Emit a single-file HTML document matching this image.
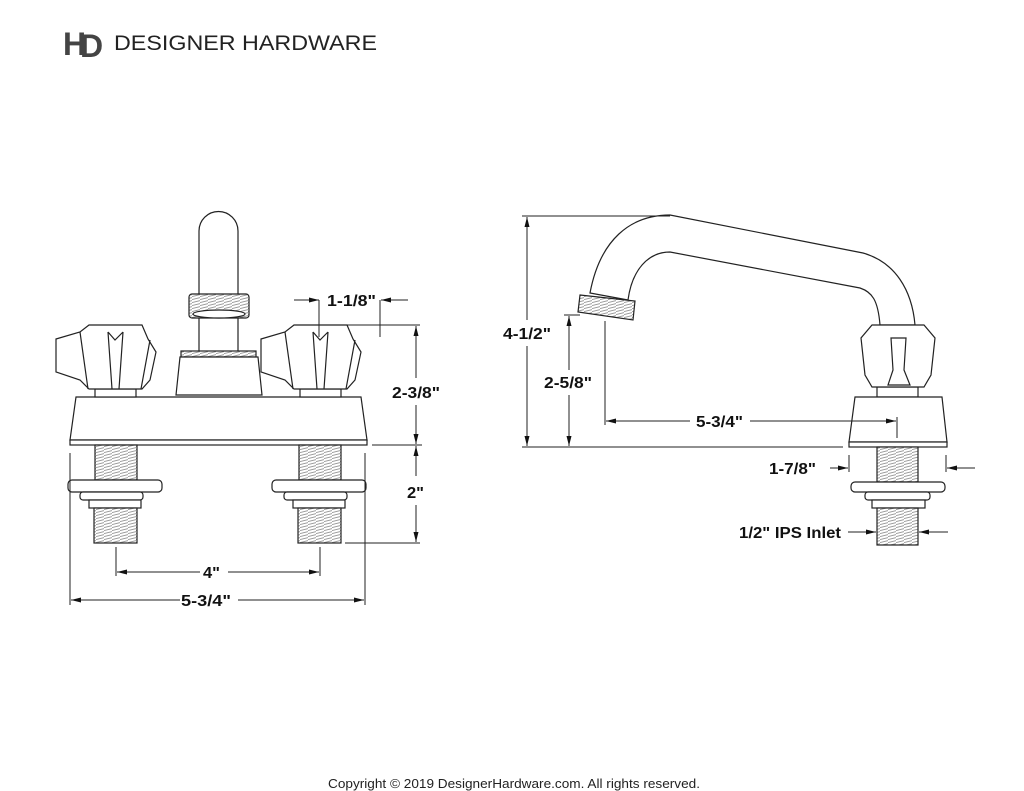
<!DOCTYPE html>
<html><head><meta charset="utf-8"><style>
html,body{margin:0;padding:0;background:#fff;}
svg{display:block;}
text{font-family:"Liberation Sans",sans-serif;}
.d{font-weight:bold;font-size:16px;fill:#111;}
</style></head><body>
<svg width="1024" height="791" viewBox="0 0 1024 791" xmlns="http://www.w3.org/2000/svg">
<defs>
<marker id="a" viewBox="0 0 10 6" refX="10" refY="3" markerWidth="10" markerHeight="6" markerUnits="userSpaceOnUse" orient="auto"><path d="M0,0.5 L10,3 L0,5.5z" fill="#111"/></marker>
<pattern id="th" width="8" height="3" patternUnits="userSpaceOnUse"><rect width="8" height="3" fill="#fff"/><line x1="0" y1="2.6" x2="8" y2="0.6" stroke="#999" stroke-width="0.9"/></pattern>
</defs>
<!-- logo -->
<text x="63" y="55" font-family="Liberation Serif,serif" font-size="32" font-weight="bold" fill="#444">H</text>
<text x="80" y="57" font-family="Liberation Serif,serif" font-size="32" font-weight="bold" fill="#444">D</text>
<text x="114" y="50" font-size="21" fill="#222" textLength="263" lengthAdjust="spacingAndGlyphs">DESIGNER HARDWARE</text>

<g fill="#fff" stroke="#222" stroke-width="1.2">
<!-- LEFT FAUCET -->
<path d="M199,353 V231 A19.5,19.5 0 0 1 238,231 V353 Z"/>
<rect x="189" y="294" width="60" height="24" rx="3" fill="url(#th)"/>
<ellipse cx="219" cy="314" rx="26" ry="4"/>
<rect x="181" y="351" width="75" height="6" fill="url(#th)"/>
<path d="M180,357 L176,395 H262 L258,357 Z"/>
<path d="M76,397 H361 L367,440 H70 Z"/>
<rect x="70" y="440" width="297" height="5"/>
<!-- handles -->
<g id="hl">
<rect x="95" y="389" width="41" height="8"/>
<path d="M89,325 H142 L148,339 L156,352 L150,380 L142,389 H89 L80,380 L56,372 V339 L80,332 Z"/>
<path d="M108,332 L112,389 M123,332 L119,389 M108,332 L115,340 L123,332 M80,332 L88,389 M150,340 L141,389" fill="none"/>
</g>
<use href="#hl" transform="translate(205,0)"/>
<!-- shanks -->
<g id="sh">
<rect x="95" y="445" width="42" height="35" fill="url(#th)"/>
<rect x="68" y="480" width="94" height="12" rx="4"/>
<rect x="80" y="492" width="63" height="8" rx="3"/>
<rect x="89" y="500" width="52" height="8"/>
<rect x="94" y="508" width="43" height="35" fill="url(#th)"/>
</g>
<use href="#sh" transform="translate(204,0)"/>

<!-- RIGHT FAUCET -->
<path d="M590,293 C600,240 630,215 670,215 L863,253 C895,262 912,290 915,325 H880 C878,300 872,292 860,288 L670,252 C648,252 632,270 628,300 Z"/>
<path d="M580,295 L635,301 L633,320 L578,312 Z" fill="url(#th)"/>
<rect x="877" y="387" width="41" height="10"/>
<path d="M872,325 H924 L935,338 L931,375 L924,387 H872 L865,375 L861,338 Z"/>
<path d="M891,338 H906 L904,370 L910,385 H888 L893,370 Z"/>
<path d="M855,397 H942 L947,442 H849 Z"/>
<rect x="849" y="442" width="98" height="5"/>
<rect x="877" y="447" width="41" height="35" fill="url(#th)"/>
<rect x="851" y="482" width="94" height="10" rx="4"/>
<rect x="865" y="492" width="65" height="8" rx="3"/>
<rect x="872" y="500" width="53" height="8"/>
<rect x="877" y="508" width="41" height="37" fill="url(#th)"/>
</g>

<!-- DIMENSIONS -->
<g stroke="#222" stroke-width="1" fill="none">
<line x1="294" y1="300" x2="319" y2="300" marker-end="url(#a)"/>
<line x1="408" y1="300" x2="381" y2="300" marker-end="url(#a)"/>
<line x1="319" y1="300" x2="319" y2="337"/>
<line x1="380" y1="300" x2="380" y2="337"/>
<line x1="346" y1="325" x2="420" y2="325"/>
<line x1="372" y1="445" x2="422" y2="445"/>
<line x1="345" y1="543" x2="420" y2="543"/>
<line x1="416" y1="378" x2="416" y2="326" marker-end="url(#a)"/>
<line x1="416" y1="405" x2="416" y2="444" marker-end="url(#a)"/>
<line x1="416" y1="476" x2="416" y2="446" marker-end="url(#a)"/>
<line x1="416" y1="505" x2="416" y2="542" marker-end="url(#a)"/>
<line x1="116" y1="547" x2="116" y2="576"/>
<line x1="320" y1="547" x2="320" y2="576"/>
<line x1="200" y1="572" x2="117" y2="572" marker-end="url(#a)"/>
<line x1="228" y1="572" x2="319" y2="572" marker-end="url(#a)"/>
<line x1="70" y1="453" x2="70" y2="605"/>
<line x1="365" y1="453" x2="365" y2="605"/>
<line x1="180" y1="600" x2="71" y2="600" marker-end="url(#a)"/>
<line x1="238" y1="600" x2="364" y2="600" marker-end="url(#a)"/>
<line x1="522" y1="216" x2="670" y2="216"/>
<line x1="522" y1="447" x2="843" y2="447"/>
<line x1="527" y1="320" x2="527" y2="217" marker-end="url(#a)"/>
<line x1="527" y1="346" x2="527" y2="446" marker-end="url(#a)"/>
<line x1="564" y1="315" x2="580" y2="315"/>
<line x1="569" y1="370" x2="569" y2="316" marker-end="url(#a)"/>
<line x1="569" y1="395" x2="569" y2="446" marker-end="url(#a)"/>
<line x1="605" y1="321" x2="605" y2="425"/>
<line x1="897" y1="417" x2="897" y2="438"/>
<line x1="690" y1="421" x2="606" y2="421" marker-end="url(#a)"/>
<line x1="750" y1="421" x2="896" y2="421" marker-end="url(#a)"/>
<line x1="849" y1="455" x2="849" y2="472"/>
<line x1="946" y1="455" x2="946" y2="472"/>
<line x1="830" y1="468" x2="848" y2="468" marker-end="url(#a)"/>
<line x1="975" y1="468" x2="947" y2="468" marker-end="url(#a)"/>
<line x1="848" y1="532" x2="876" y2="532" marker-end="url(#a)"/>
<line x1="948" y1="532" x2="919" y2="532" marker-end="url(#a)"/>
</g>
<g class="d">
<text class="d" x="327" y="306" textLength="49" lengthAdjust="spacingAndGlyphs">1-1/8"</text>
<text class="d" x="392" y="398" textLength="48" lengthAdjust="spacingAndGlyphs">2-3/8"</text>
<text class="d" x="407" y="498" textLength="17" lengthAdjust="spacingAndGlyphs">2"</text>
<text class="d" x="203" y="578" textLength="17" lengthAdjust="spacingAndGlyphs">4"</text>
<text class="d" x="181" y="606" textLength="50" lengthAdjust="spacingAndGlyphs">5-3/4"</text>
<text class="d" x="503" y="339" textLength="48" lengthAdjust="spacingAndGlyphs">4-1/2"</text>
<text class="d" x="544" y="388" textLength="48" lengthAdjust="spacingAndGlyphs">2-5/8"</text>
<text class="d" x="696" y="427" textLength="47" lengthAdjust="spacingAndGlyphs">5-3/4"</text>
<text class="d" x="769" y="474" textLength="47" lengthAdjust="spacingAndGlyphs">1-7/8"</text>
<text class="d" x="739" y="538" textLength="102" lengthAdjust="spacingAndGlyphs">1/2" IPS Inlet</text>
</g>
<text x="328" y="788" font-size="13" fill="#222" textLength="372" lengthAdjust="spacingAndGlyphs">Copyright © 2019 DesignerHardware.com. All rights reserved.</text>
</svg>
</body></html>
